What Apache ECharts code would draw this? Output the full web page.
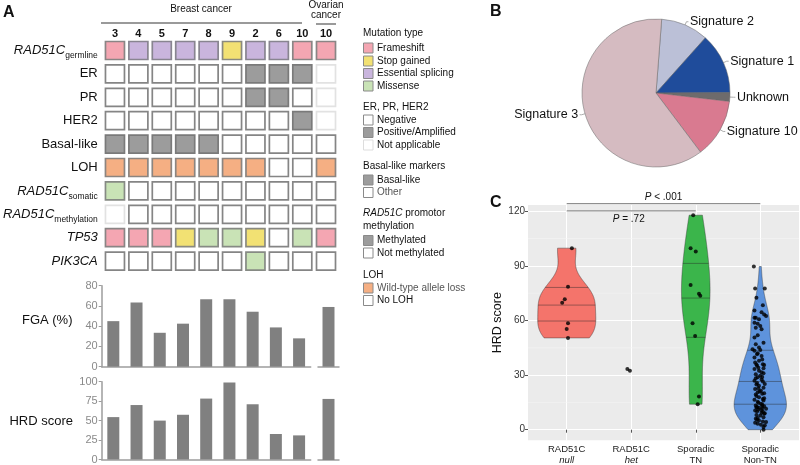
<!DOCTYPE html>
<html><head><meta charset="utf-8">
<script src="https://cdn.jsdelivr.net/npm/echarts@6.0.0/dist/echarts.min.js"></script>
<style>html,body{margin:0;padding:0;background:#fff}#c{width:800px;height:465px}</style>
</head><body><div id="c"></div><script>
// ---------------- DATA ----------------
// Panel A
const breastSamples = ['3','4','5','7','8','9','2','6','10'];
const ovarianSamples = ['10'];
const rowNames = ['RAD51C germline','ER','PR','HER2','Basal-like','LOH','RAD51C somatic','RAD51C methylation','TP53','PIK3CA'];
// codes: F frameshift, S stop gained, E essential splicing, M missense, N negative/none, P positive,
// X not applicable, B basal-like, O other, L wild-type allele loss ; 9 breast samples then the ovarian one
const germlineStatus    = ['F','E','E','E','E','S','E','E','F','F'];
const erStatus          = ['N','N','N','N','N','N','P','P','P','X'];
const prStatus          = ['N','N','N','N','N','N','P','P','N','X'];
const her2Status        = ['N','N','N','N','N','N','N','N','P','X'];
const basalStatus       = ['B','B','B','B','B','O','O','O','O','O'];
const lohStatus         = ['L','L','L','L','L','L','L','N','N','L'];
const somaticStatus     = ['M','N','N','N','N','N','N','N','N','N'];
const methylationStatus = ['X','N','N','N','N','N','N','N','N','N'];
const tp53Status        = ['F','F','F','S','M','M','S','N','M','F'];
const pik3caStatus      = ['N','N','N','N','N','N','M','N','N','N'];
const fgaBreast  = [45, 63.5, 33.5, 42.5, 66.5, 66.5, 54.3, 38.8, 28];
const fgaOvarian = [59];
const hrdBreast  = [54.5, 70, 50, 57.5, 78.3, 99, 71, 32.8, 31];
const hrdOvarian = [78];
const fgaTicks = [0, 80, 20];
const hrdTicks = [0, 100, 25];
// Panel B
const signatureNames  = ['Signature 2','Signature 1','Unknown','Signature 10','Signature 3'];
const signatureShares = [10.4, 13.3, 1.9, 12.9, 61.5];
// Panel C
const groupLine1 = ['RAD51C','RAD51C','Sporadic','Sporadic'];
const groupLine2 = ['null','het','TN','Non-TN'];
const hrdTickValues = [0, 30, 60, 90, 120];
const hrdMinorValues = [15, 45, 75, 105];
const nullValues = [99.7, 78.5, 71.6, 69.7, 58.4, 55.3, 50.4];
const nullJitter = [0.08, 0.02, -0.03, -0.07, 0.02, 0, 0.02];
const hetValues = [33.3, 32.4];
const hetJitter = [-0.06, -0.02];
const tnValues = [117.8, 99.7, 97.8, 79.5, 74.6, 73.6, 58.4, 51.4, 18.2, 14.0];
const tnJitter = [-0.04, -0.08, 0, -0.08, 0.05, 0.07, -0.05, -0.01, 0.05, 0.03];
const nonTNValues = [89.6,77.5,77.5,72.4,68.4,65.5,64.5,63.3,62.4,61.5,61.5,60.6,58.8,58.2,56.9,56,55.1,51.8,50.6,47.8,46.9,45.1,44.2,43.3,43.8,41.5,40.5,39.7,37.8,36.9,36,35.1,35.5,33.3,32.4,31.5,30.5,29.6,28.8,26.9,26.4,25.6,25.1,24.2,22.4,21.4,20.6,20,19.3,17.8,16.9,16.5,15.4,14.2,13.3,12.9,12,11.5,10,9.3,8.7,7.8,6,5.1,4.5,4.2,3.8,3.3,2.7,2.4,1.5,0,
  14.8,16,18.5,19.8,21,23,24.8,27.5,28.2,31,34,38.5,42,8,9.8,11,13.8,12.4,6.8,5.5,13,35.8,29,33.8,
  12.2,10.8,6.4,9,10.5,11.8,17.2,22.8];
const nonTNJitter = [-0.10,-0.08,0.07,-0.06,0.04,-0.09,0.02,0.06,0.09,-0.09,-0.07,-0.02,-0.09,-0.04,0,-0.07,0.02,-0.04,-0.09,0.05,-0.07,-0.02,-0.12,-0.09,0,-0.05,0.02,-0.09,-0.02,-0.08,0.04,-0.05,0.06,-0.09,-0.02,0.02,-0.07,0,-0.04,-0.09,0.04,-0.05,0.07,-0.02,-0.08,0.01,-0.04,0.06,-0.07,-0.02,0.04,-0.09,-0.04,0.01,-0.07,0.06,-0.02,0.09,-0.05,0.02,0.06,0,-0.07,-0.02,0.04,0.09,-0.08,-0.04,0.01,0.07,0.05,0.05,
  -0.03,0.05,-0.06,0.03,-0.01,0.05,-0.06,0.02,-0.07,0.05,-0.03,0.03,-0.04,-0.06,0.04,-0.03,0.03,-0.05,0.05,-0.05,0.03,-0.06,0.03,0.05,
  -0.06,0.02,-0.04,0.07,-0.08,0.03,0.06,-0.03];
const bracketFrom = [1, 1];
const bracketTo = [3, 4];
const bracketLevel = [120.2, 124.2];
const bracketText = ['P = .72', 'P < .001'];

// ---------------- STYLE ----------------
const FONT = '"Liberation Sans", Arial, Helvetica, sans-serif';
const CELL = {
  F:{fill:'#F4A6B2', stroke:'#8a8585'}, S:{fill:'#F2E173', stroke:'#8a8a80'},
  E:{fill:'#C9B5DD', stroke:'#888590'}, M:{fill:'#C9E3B6', stroke:'#868a84'},
  N:{fill:'#ffffff', stroke:'#858585'}, P:{fill:'#9c9c9c', stroke:'#7a7a7a'},
  X:{fill:'#ffffff', stroke:'#e2e2e2'}, B:{fill:'#9c9c9c', stroke:'#7a7a7a'},
  O:{fill:'#ffffff', stroke:'#858585'}, L:{fill:'#F5AF83', stroke:'#8c8580'}
};
const statusRows = [germlineStatus, erStatus, prStatus, her2Status, basalStatus, lohStatus, somaticStatus, methylationStatus, tp53Status, pik3caStatus];
const GENES = ['RAD51C','TP53','PIK3CA'];

const breastCells = [], breastCodes = [], ovCells = [], ovCodes = [];
statusRows.forEach((row, r) => {
  row.forEach((code, c) => {
    if (c < breastSamples.length) { breastCells.push([c, r]); breastCodes.push(code); }
    else { ovCells.push([c - breastSamples.length, r]); ovCodes.push(code); }
  });
});
function cellRenderer(codes) {
  return function (params, api) {
    const p = api.coord([api.value(0), api.value(1)]);
    const st = CELL[codes[params.dataIndex]];
    return {type:'rect', shape:{x:p[0]-9.5, y:p[1]-9, width:19, height:18},
      style:{fill:st.fill, stroke:st.stroke, lineWidth:1.7}};
  };
}
function rowLabel(v) {
  const parts = v.split(' ');
  if (parts.length === 2 && parts[0] === 'RAD51C') return '{i|' + parts[0] + '}{s|' + parts[1] + '}';
  if (GENES.indexOf(v) >= 0) return '{i|' + v + '}';
  return '{n|' + v + '}';
}

// ---------------- KDE for violins ----------------
function kdeProfile(vals) {
  const s = vals.slice().sort((a,b)=>a-b), n = s.length;
  const mean = s.reduce((a,b)=>a+b,0)/n;
  const sd = Math.sqrt(s.reduce((a,b)=>a+(b-mean)*(b-mean),0)/(n-1));
  const q = p => { const h=(n-1)*p, lo=Math.floor(h), hi=Math.min(lo+1,n-1); return s[lo]+(h-lo)*(s[hi]-s[lo]); };
  const iqr = q(0.75)-q(0.25);
  let lo = Math.min(sd, iqr/1.34); if (!(lo > 0)) lo = sd;
  const bw = 0.9*lo*Math.pow(n,-0.2);
  const ys = [], ds = [], N = 512;
  for (let k=0;k<N;k++) {
    const y = s[0] + (s[n-1]-s[0])*k/(N-1);
    let d = 0; for (const v of s) { const z=(y-v)/bw; d += Math.exp(-0.5*z*z); }
    ys.push(y); ds.push(d/(n*bw*Math.sqrt(2*Math.PI)));
  }
  return {ys, ds};
}
function quantileYs(ys, ds, probs) {
  const tot = ds.reduce((a,b)=>a+b,0); let c = 0; const cum = ds.map(d => (c += d)/tot);
  return probs.map(p => {
    for (let k=1;k<cum.length;k++) if (cum[k] >= p) {
      const t = (p-cum[k-1])/(cum[k]-cum[k-1]); return ys[k-1]+t*(ys[k]-ys[k-1]);
    }
    return ys[ys.length-1];
  });
}
const violinSets = [
  {pos:1, vals:nullValues, color:'#F4746B'},
  {pos:3, vals:tnValues, color:'#3BB54B'},
  {pos:4, vals:nonTNValues, color:'#5E93DC'}
];
violinSets.forEach(g => Object.assign(g, kdeProfile(g.vals)));
const maxDens = Math.max(...violinSets.map(g => Math.max(...g.ds)));
violinSets.forEach(g => {
  g.w = g.ds.map(d => d/maxDens*0.45);
  g.q = quantileYs(g.ys, g.ds, [0.25,0.5,0.75]).map(y => {
    let k = 1; while (k < g.ys.length-1 && g.ys[k] < y) k++;
    const t = (y-g.ys[k-1])/(g.ys[k]-g.ys[k-1]);
    return [y, g.w[k-1]+t*(g.w[k]-g.w[k-1])];
  });
});

const pointData = [];
[[1,nullValues,nullJitter],[2,hetValues,hetJitter],[3,tnValues,tnJitter],[4,nonTNValues,nonTNJitter]].forEach(([pos, v, j]) => {
  v.forEach((val, i) => pointData.push([pos + j[i], val]));
});

// ---------------- CHART ----------------
const chart = echarts.init(document.getElementById('c'), null, {renderer:'canvas'});
const grayAxis = {lineStyle:{color:'#9d9d9d', width:1.5}};
const barY = (gi, t, show) => ({gridIndex:gi, type:'value', min:t[0], max:t[1], interval:t[2], show:show,
  axisLine:{show:true, ...grayAxis}, axisTick:{show:true, length:3, lineStyle:{color:'#9d9d9d'}},
  axisLabel:{color:'#8a8a8a', fontSize:11, fontFamily:FONT, margin:4}, splitLine:{show:false}});
const barX = (gi, data) => ({gridIndex:gi, type:'category', data:data, axisLine:{show:true, ...grayAxis},
  axisTick:{show:false}, axisLabel:{show:false}});

const legendItems = [
  ['h', 33, 'Mutation type'],
  ['#F4A6B2', 48, 'Frameshift'], ['#F2E173', 61, 'Stop gained'], ['#C9B5DD', 73.5, 'Essential splicing'], ['#C9E3B6', 86, 'Missense'],
  ['h', 107, 'ER, PR, HER2'],
  ['#ffffff', 120, 'Negative'], ['#9c9c9c', 132.5, 'Positive/Amplified'], ['na', 145, 'Not applicable'],
  ['h', 166, 'Basal-like markers'],
  ['#9c9c9c', 180, 'Basal-like'], ['#ffffff', 192.5, 'Other'],
  ['h', 213, '{i|RAD51C} promotor'], ['h', 226.5, 'methylation'],
  ['#9c9c9c', 240.5, 'Methylated'], ['#ffffff', 253, 'Not methylated'],
  ['h', 275, 'LOH'],
  ['#F5AF83', 288, 'Wild-type allele loss'], ['#ffffff', 300.5, 'No LOH']
];
const graphics = [];
legendItems.forEach(([k, y, t]) => {
  const rich = {i:{fontStyle:'italic', fontSize:10, fontFamily:FONT, fill:'#111'}};
  if (k === 'h') {
    graphics.push({type:'text', x:363, y:y, style:{text:t, rich:rich, font:'10px '+FONT, fill:'#111', verticalAlign:'middle'}});
  } else {
    graphics.push({type:'rect', shape:{x:363.5, y:y-5, width:9.5, height:10},
      style:{fill:k==='na'?'#fff':k, stroke:k==='na'?'#dddddd':'#8a8a8a', lineWidth:1}});
    const col = (t === 'Other' || t === 'Wild-type allele loss') ? '#555' : '#111';
    graphics.push({type:'text', x:377, y:y, style:{text:t, font:'10px '+FONT, fill:col, verticalAlign:'middle'}});
  }
});
graphics.push(
  {type:'text', x:3, y:12.5, style:{text:'A', font:'bold 16px '+FONT, fill:'#111', verticalAlign:'middle'}},
  {type:'text', x:490, y:11.5, style:{text:'B', font:'bold 16px '+FONT, fill:'#111', verticalAlign:'middle'}},
  {type:'text', x:490, y:203, style:{text:'C', font:'bold 16px '+FONT, fill:'#111', verticalAlign:'middle'}},
  {type:'text', x:201, y:9, style:{text:'Breast cancer', font:'10px '+FONT, fill:'#111', align:'center', verticalAlign:'middle'}},
  {type:'line', shape:{x1:101, y1:23, x2:302, y2:23}, style:{stroke:'#9a9a9a', lineWidth:2}},
  {type:'text', x:326, y:5, style:{text:'Ovarian', font:'10px '+FONT, fill:'#111', align:'center', verticalAlign:'middle'}},
  {type:'text', x:326, y:15.5, style:{text:'cancer', font:'10px '+FONT, fill:'#111', align:'center', verticalAlign:'middle'}},
  {type:'line', shape:{x1:316, y1:24, x2:336, y2:24}, style:{stroke:'#9a9a9a', lineWidth:2}},
  {type:'text', x:72.5, y:320, style:{text:'FGA (%)', font:'13px '+FONT, fill:'#111', align:'right', verticalAlign:'middle'}},
  {type:'text', x:73, y:421, style:{text:'HRD score', font:'13px '+FONT, fill:'#111', align:'right', verticalAlign:'middle'}}
);

const option = {
  animation: false,
  backgroundColor: '#fff',
  textStyle: {fontFamily: FONT},
  grid: [
    {left:98, top:38.8, width:216, height:234},
    {left:314, top:38.8, width:24, height:234},
    {left:101.7, top:285.7, width:209, height:81},
    {left:318, top:285.7, width:21, height:81},
    {left:101.7, top:381.7, width:209, height:78.3},
    {left:318, top:381.7, width:21, height:78.3},
    {left:528, top:205, width:271, height:236.7, show:true, backgroundColor:'#EBEBEB', borderWidth:0}
  ],
  xAxis: [
    {gridIndex:0, type:'category', data:breastSamples, position:'top', axisLine:{show:false}, axisTick:{show:false},
      axisLabel:{fontSize:11, fontWeight:'bold', color:'#111', margin:-0.5, fontFamily:FONT}},
    {gridIndex:1, type:'category', data:ovarianSamples, position:'top', axisLine:{show:false}, axisTick:{show:false},
      axisLabel:{fontSize:11, fontWeight:'bold', color:'#111', margin:-0.5, fontFamily:FONT}},
    barX(2, breastSamples), barX(3, ovarianSamples), barX(4, breastSamples), barX(5, ovarianSamples),
    {gridIndex:6, type:'value', min:0.4, max:4.6, axisLine:{show:false},
      axisTick:{show:true, customValues:[1,2,3,4], length:3, lineStyle:{color:'#555'}},
      axisLabel:{customValues:[1,2,3,4], margin:4, formatter:v => {
        const i = Math.round(v)-1; const it = i < 2 ? 'b' : 'c';
        return '{a|' + groupLine1[i] + '}\n{' + it + '|' + groupLine2[i] + '}'; },
        rich:{a:{fontSize:9.5, lineHeight:10.5, color:'#222', fontFamily:FONT},
              b:{fontSize:9.5, lineHeight:10.5, color:'#222', fontStyle:'italic', fontFamily:FONT},
              c:{fontSize:9.5, lineHeight:10.5, color:'#222', fontFamily:FONT}}},
      splitLine:{show:true, lineStyle:{color:'#ffffff', width:1.1}}}
  ],
  yAxis: [
    {gridIndex:0, type:'category', data:rowNames, inverse:true, axisLine:{show:false}, axisTick:{show:false},
      axisLabel:{margin:5.5, formatter:rowLabel, rich:{
        i:{fontStyle:'italic', fontSize:13, lineHeight:20, color:'#111', fontFamily:FONT},
        n:{fontSize:13, lineHeight:20, color:'#111', fontFamily:FONT},
        s:{fontSize:8.5, lineHeight:10, verticalAlign:'bottom', color:'#111', fontFamily:FONT}}}},
    {gridIndex:1, type:'category', data:rowNames, inverse:true, show:false},
    barY(2, fgaTicks, true), barY(3, fgaTicks, false), barY(4, hrdTicks, true), barY(5, hrdTicks, false),
    {gridIndex:6, type:'value', min:-5.8, max:123.4, axisLine:{show:false},
      axisTick:{show:true, customValues:hrdTickValues, length:3, lineStyle:{color:'#555'}},
      axisLabel:{customValues:hrdTickValues, fontSize:10, color:'#333', margin:3, fontFamily:FONT},
      splitLine:{show:true, lineStyle:{color:'#ffffff', width:1.1}},
      name:'HRD score', nameLocation:'middle', nameGap:22, nameTextStyle:{fontSize:12.5, color:'#111', fontFamily:FONT}}
  ],
  series: [
    {type:'custom', xAxisIndex:0, yAxisIndex:0, data:breastCells, renderItem:cellRenderer(breastCodes), silent:true},
    {type:'custom', xAxisIndex:1, yAxisIndex:1, data:ovCells, renderItem:cellRenderer(ovCodes), silent:true},
    {type:'bar', xAxisIndex:2, yAxisIndex:2, data:fgaBreast, barWidth:12, itemStyle:{color:'#808080'}},
    {type:'bar', xAxisIndex:3, yAxisIndex:3, data:fgaOvarian, barWidth:12, itemStyle:{color:'#808080'}},
    {type:'bar', xAxisIndex:4, yAxisIndex:4, data:hrdBreast, barWidth:12, itemStyle:{color:'#808080'}},
    {type:'bar', xAxisIndex:5, yAxisIndex:5, data:hrdOvarian, barWidth:12, itemStyle:{color:'#808080'}},
    {type:'pie', center:[656, 93], radius:74, startAngle:85.6, clockwise:true, avoidLabelOverlap:false,
      data: signatureNames.map((n, i) => ({name:n, value:signatureShares[i]})),
      color:['#BBC0D7','#1F4C9B','#6E6B6C','#D97A90','#D5BBC1'],
      itemStyle:{borderColor:'#666', borderWidth:0.5},
      label:{show:true, position:'outside', fontSize:12.5, color:'#111', fontFamily:FONT, distanceToLabelLine:1.5},
      labelLine:{show:true, length:3.5, length2:2, lineStyle:{color:'#999', width:0.8}}},
    {type:'custom', xAxisIndex:6, yAxisIndex:6, z:1, silent:true, data:hrdMinorValues.map(v => [0.4, v]),
      renderItem:(params, api) => {
        const a = api.coord([0.4, api.value(1)]), b = api.coord([4.6, api.value(1)]);
        return {type:'line', shape:{x1:a[0], y1:a[1], x2:b[0], y2:b[1]}, style:{stroke:'#F5F5F5', lineWidth:0.6}};
      }},
    {type:'custom', xAxisIndex:6, yAxisIndex:6, z:2, silent:true, data:violinSets.map(g => [g.pos, g.ys[0]]),
      renderItem:(params, api) => {
        const g = violinSets[params.dataIndex];
        const pts = [];
        for (let k=0;k<g.ys.length;k++) pts.push(api.coord([g.pos - g.w[k], g.ys[k]]));
        for (let k=g.ys.length-1;k>=0;k--) pts.push(api.coord([g.pos + g.w[k], g.ys[k]]));
        const children = [{type:'polygon', shape:{points:pts}, style:{fill:g.color, stroke:'rgba(50,50,50,0.55)', lineWidth:0.8}}];
        g.q.forEach(([y, w]) => {
          const a = api.coord([g.pos - w, y]), b = api.coord([g.pos + w, y]);
          children.push({type:'line', shape:{x1:a[0], y1:a[1], x2:b[0], y2:b[1]}, style:{stroke:'rgba(40,40,40,0.55)', lineWidth:0.8}});
        });
        return {type:'group', children};
      }},
    {type:'scatter', xAxisIndex:6, yAxisIndex:6, z:3, data:pointData, symbolSize:4, itemStyle:{color:'#000'}, silent:true},
    {type:'custom', xAxisIndex:6, yAxisIndex:6, z:4, silent:true, clip:false,
      data: bracketFrom.map((f, i) => [f, bracketLevel[i], bracketTo[i]]),
      encode:{x:0, y:1},
      renderItem:(params, api) => {
        const i = params.dataIndex;
        const a = api.coord([api.value(0), api.value(1)]), b = api.coord([api.value(2), api.value(1)]);
        const parts = bracketText[i].split('P');
        return {type:'group', children:[
          {type:'line', shape:{x1:a[0], y1:a[1], x2:b[0], y2:b[1]}, style:{stroke:'#8f8f8f', lineWidth:1.2}},
          {type:'text', x:(a[0]+b[0])/2 - (i===0?2.5:0), y:a[1] + (i===0 ? 8.5 : -6.5),
            style:{text:'{i|P}{n|' + parts[1] + '}', align:'center', verticalAlign:'middle',
              rich:{i:{fontStyle:'italic', fontSize:10, fontFamily:FONT, fill:'#111'}, n:{fontSize:10, fontFamily:FONT, fill:'#111'}}}}
        ]};
      }}
  ],
  graphic: graphics
};
chart.setOption(option);
</script></body></html>
